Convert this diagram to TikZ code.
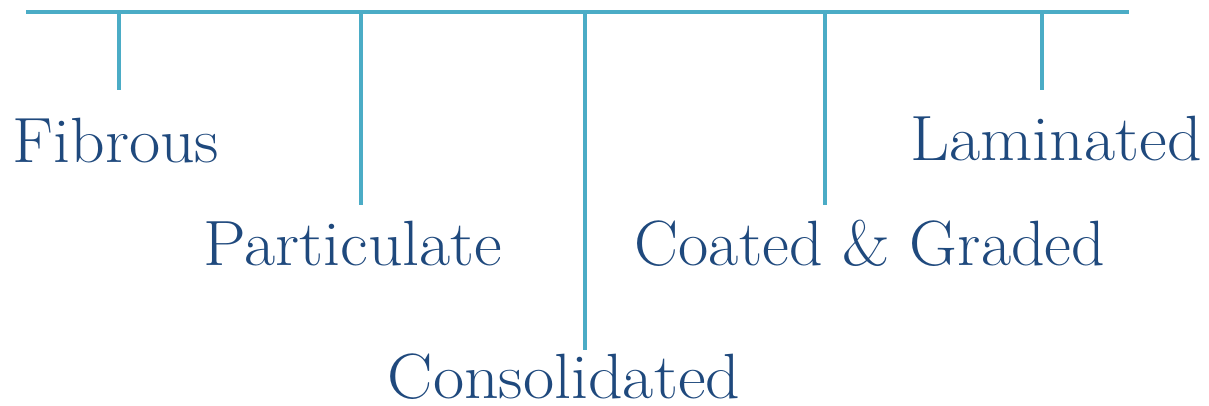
\documentclass[tikz,border=0pt]{standalone}
\usepackage{fontspec}
\definecolor{barcol}{RGB}{75,172,198}
\definecolor{txtcol}{RGB}{31,73,125}
\begin{document}
\begin{tikzpicture}[x=1pt,y=-1pt,
  bar/.style={draw=barcol,line width=4.5pt},
  lbl/.style={text=txtcol,font=\fontsize{64}{72}\selectfont,inner sep=0pt,anchor=base,xscale=1.06,transform shape}]
\useasboundingbox (0,0) rectangle (1209,405);
\coordinate (L) at (26,12);
\coordinate (R) at (1129,12);
\draw[bar] (L) -- (R);
\coordinate (t1) at (119,12); \coordinate (b1) at (119,90);
\coordinate (t2) at (361,12); \coordinate (b2) at (361,205);
\coordinate (t3) at (585,12); \coordinate (b3) at (585,350);
\coordinate (t4) at (825,12); \coordinate (b4) at (825,205);
\coordinate (t5) at (1042,12); \coordinate (b5) at (1042,90);
\foreach \i in {1,...,5} \draw[bar] (t\i) -- (b\i);
\node[lbl] (fib) at (116,162) {Fibrous};
\node[lbl] (par) at (353,265) {Particulate};
\node[lbl] (con) at (564,398) {Consolidated};
\node[lbl,xscale=0.97] (coa) at (870,265) {Coated \& Graded};
\node[lbl] (lam) at (1056,160) {Laminated};
\end{tikzpicture}
\end{document}
